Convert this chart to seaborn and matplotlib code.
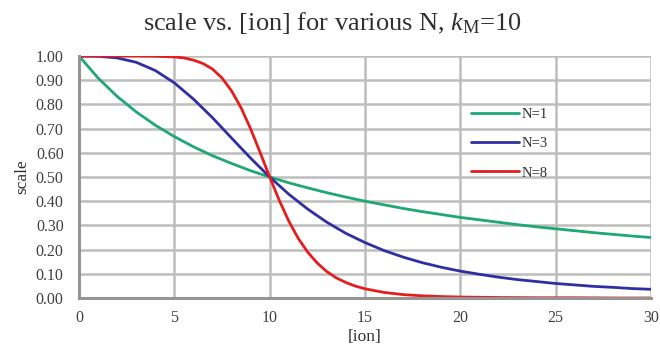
import numpy as np
import pandas as pd
import matplotlib
matplotlib.use("Agg")
import matplotlib.pyplot as plt
import seaborn as sns

# ---- data ----
ion_n1 = list(range(0, 31))
scale_n1 = [1.000, 0.909, 0.833, 0.769, 0.714, 0.667, 0.625, 0.588, 0.556, 0.526,
            0.500, 0.476, 0.455, 0.435, 0.417, 0.400, 0.385, 0.370, 0.357, 0.345,
            0.333, 0.323, 0.313, 0.303, 0.294, 0.286, 0.278, 0.270, 0.263, 0.256, 0.250]

ion_n3 = list(range(0, 31))
scale_n3 = [1.000, 0.999, 0.992, 0.974, 0.940, 0.889, 0.822, 0.745, 0.661, 0.578,
            0.500, 0.429, 0.367, 0.313, 0.267, 0.229, 0.196, 0.169, 0.146, 0.127,
            0.111, 0.098, 0.086, 0.076, 0.068, 0.060, 0.054, 0.048, 0.044, 0.039, 0.036]

ion_n8 = [0, 1, 2, 3, 4, 5, 5.5, 6, 6.5, 7, 7.5, 8, 8.5, 9, 9.5, 10, 10.5, 11, 11.5,
          12, 12.5, 13, 13.5, 14, 14.5, 15, 16, 17, 18, 19, 20, 22, 24, 26, 28, 30]
scale_n8 = [1.000, 1.000, 1.000, 1.000, 0.999, 0.996, 0.992, 0.983, 0.969, 0.946,
            0.909, 0.856, 0.786, 0.699, 0.601, 0.500, 0.404, 0.318, 0.246,
            0.189, 0.144, 0.109, 0.083, 0.064, 0.049, 0.038, 0.023, 0.014, 0.009, 0.006,
            0.004, 0.002, 0.001, 0.001, 0.000, 0.000]

series_labels = ["N=1", "N=3", "N=8"]
series_colors = ["#1fa774", "#2f2fa2", "#e41e1e"]

x_ticks = [0, 5, 10, 15, 20, 25, 30]
y_ticks = [0.0, 0.1, 0.2, 0.3, 0.4, 0.5, 0.6, 0.7, 0.8, 0.9, 1.0]

df = pd.concat([
    pd.DataFrame({"ion": ion_n1, "scale": scale_n1, "N": series_labels[0]}),
    pd.DataFrame({"ion": ion_n3, "scale": scale_n3, "N": series_labels[1]}),
    pd.DataFrame({"ion": ion_n8, "scale": scale_n8, "N": series_labels[2]}),
], ignore_index=True)

sns.set_style("white")
plt.rcParams["font.family"] = ["Liberation Serif", "DejaVu Serif"]
plt.rcParams["mathtext.fontset"] = "custom"
plt.rcParams["mathtext.it"] = "Liberation Serif:italic"
plt.rcParams["mathtext.rm"] = "Liberation Serif"

fig = plt.figure(figsize=(6.6, 3.51), dpi=100)
ax = fig.add_axes([0.1197, 0.151, 0.8667, 0.6895])

sns.lineplot(data=df, x="ion", y="scale", hue="N", palette=series_colors,
             hue_order=series_labels, linewidth=2.0, ax=ax, estimator=None, sort=False)

ax.set_xlim(0, 30)
ax.set_ylim(0, 1.0)
ax.set_xticks(x_ticks)
ax.set_yticks(y_ticks)
ax.set_yticklabels([f"{v:.2f}" for v in y_ticks])
ax.grid(True, color="#bdbdbd", linewidth=1.8)
ax.set_axisbelow(True)
for s in ["top", "right"]:
    ax.spines[s].set_visible(False)
for s in ["left", "bottom"]:
    ax.spines[s].set_color("#959595")
    ax.spines[s].set_linewidth(2.2)
ax.tick_params(axis="both", length=0, labelsize=11.5, colors="#404040")
ax.tick_params(axis="y", pad=11)
ax.tick_params(axis="x", pad=9)
ax.set_xlabel("[ion]", fontsize=12.5, color="#303030", labelpad=2)
ax.set_ylabel("scale", fontsize=12.5, color="#303030", labelpad=4)
fig.text(0.503, 0.935, r"scale vs. [ion] for various N, $k_{\mathrm{M}}$=10",
         fontsize=19, color="#303030", ha="center", va="center")

leg = ax.legend(loc="upper left", bbox_to_anchor=(0.662, 0.84), frameon=False,
                fontsize=10.5, handlelength=3.3, handletextpad=0.15, labelspacing=1.1)
for t in leg.get_texts():
    t.set_color("#303030")

fig.savefig("out.png", dpi=100)
